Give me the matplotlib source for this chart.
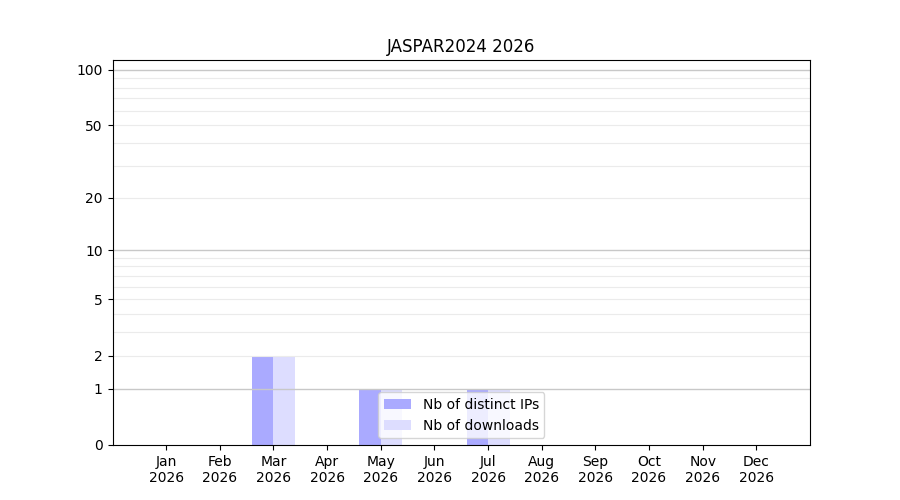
import numpy as np
import matplotlib
matplotlib.use("Agg")
import matplotlib.pyplot as plt
from matplotlib.ticker import FixedLocator, NullLocator

months = ["Jan", "Feb", "Mar", "Apr", "May", "Jun",
          "Jul", "Aug", "Sep", "Oct", "Nov", "Dec"]
year = "2026"
distinct_ips = [0, 0, 2, 0, 1, 0, 1, 0, 0, 0, 0, 0]
downloads = [0, 0, 2, 0, 1, 0, 1, 0, 0, 0, 0, 0]

x = np.arange(1, len(months) + 1)

fig, ax = plt.subplots(figsize=(9, 5), dpi=100)

ax.set_yscale("function", functions=(lambda v: np.log10(1 + np.maximum(v, 0)),
                                     lambda v: 10 ** v - 1))

ax.bar(x - 0.2, distinct_ips, width=0.4, color="#aaaaff", label="Nb of distinct IPs")
ax.bar(x + 0.2, downloads, width=0.4, color="#ddddff", label="Nb of downloads")

ax.set_xlim(0, 13)
ax.set_ylim(0, 113)
ax.set_xticks(x)
ax.set_xticklabels([m + "\n" + year for m in months])

ax.yaxis.set_major_locator(FixedLocator([0, 1, 2, 5, 10, 20, 50, 100]))
ax.yaxis.set_minor_locator(NullLocator())
ax.set_yticklabels(["0", "1", "2", "5", "10", "20", "50", "100"])

# grid lines over the bars but under the frame
major_grid = [1, 10, 100]
minor_grid = [2, 3, 4, 5, 6, 7, 8, 9, 20, 30, 40, 50, 60, 70, 80, 90]
for g in minor_grid:
    ax.axhline(g, color="#ebebeb", lw=0.8, zorder=2, solid_capstyle="butt")
for g in major_grid:
    ax.axhline(g, color="#c8c8c8", lw=1, zorder=2, solid_capstyle="butt")
for s in ax.spines.values():
    s.set_zorder(4)

ax.set_title("JASPAR2024 " + year)
ax.legend(loc="lower center")

fig.savefig("out.png")
